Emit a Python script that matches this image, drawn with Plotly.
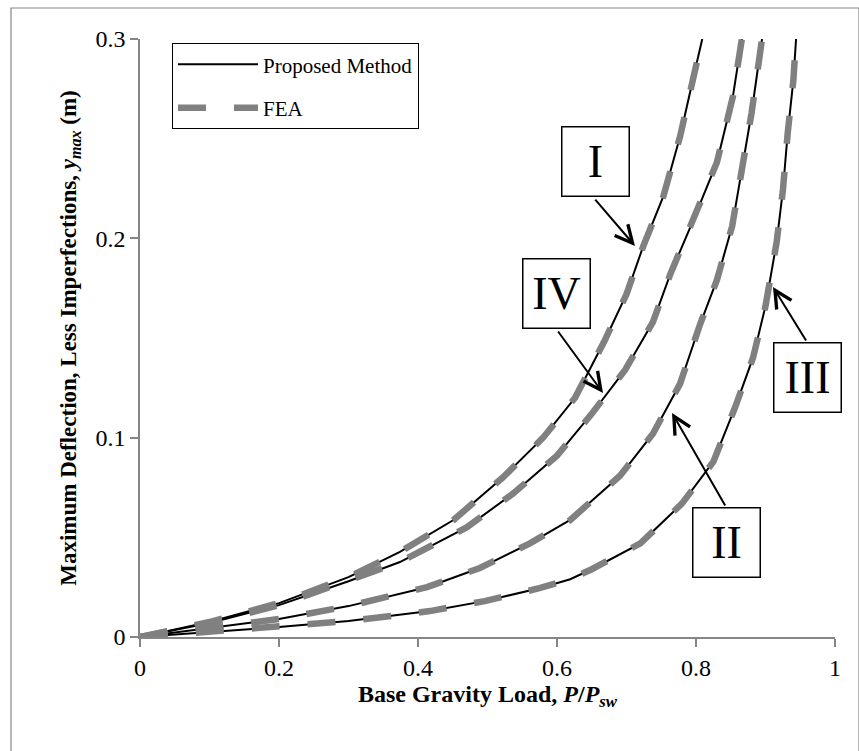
import plotly.graph_objects as go

# ---- data ----
x_I = [0, 0.1, 0.2, 0.3, 0.374, 0.451, 0.522, 0.580, 0.626, 0.669, 0.700, 0.724, 0.753, 0.777, 0.801, 0.809]
y_I = [0, 0.0075, 0.017, 0.030, 0.0427, 0.0587, 0.080, 0.100, 0.120, 0.149, 0.172, 0.196, 0.221, 0.251, 0.288, 0.300]

x_IV = [0, 0.1, 0.2, 0.3, 0.374, 0.470, 0.537, 0.600, 0.650, 0.698, 0.738, 0.763, 0.796, 0.830, 0.853, 0.866]
y_IV = [0, 0.007, 0.016, 0.028, 0.0376, 0.055, 0.072, 0.091, 0.112, 0.134, 0.158, 0.182, 0.209, 0.238, 0.271, 0.300]

x_II = [0, 0.1, 0.2, 0.3, 0.374, 0.413, 0.489, 0.561, 0.619, 0.691, 0.738, 0.777, 0.806, 0.830, 0.852, 0.866, 0.880, 0.895]
y_II = [0, 0.0045, 0.009, 0.0155, 0.0216, 0.025, 0.0346, 0.047, 0.0587, 0.081, 0.102, 0.127, 0.157, 0.179, 0.206, 0.234, 0.263, 0.300]

x_III = [0, 0.1, 0.2, 0.3, 0.374, 0.417, 0.496, 0.576, 0.619, 0.650, 0.720, 0.780, 0.825, 0.856, 0.882, 0.900, 0.916, 0.925, 0.932, 0.940, 0.944]
y_III = [0, 0.0025, 0.005, 0.008, 0.011, 0.013, 0.018, 0.0246, 0.029, 0.034, 0.047, 0.067, 0.088, 0.115, 0.140, 0.166, 0.198, 0.224, 0.253, 0.279, 0.300]

curve_names = ["I", "IV", "II", "III"]
curves_x = [x_I, x_IV, x_II, x_III]
curves_y = [y_I, y_IV, y_II, y_III]

# curve labels and their arrows
label_names = ["I", "IV", "II", "III"]
label_box_x = [0.6547, 0.5986, 0.8439, 0.9604]
label_box_y = [0.2386, 0.1721, 0.0474, 0.1300]
arrow_tail_x = [0.6532, 0.6000, 0.8432, 0.9597]
arrow_tail_y = [0.2202, 0.1540, 0.0652, 0.1480]
arrow_head_x = [0.7122, 0.6662, 0.7655, 0.9108]
arrow_head_y = [0.1962, 0.1224, 0.1124, 0.1756]

x_ticks = [0, 0.2, 0.4, 0.6, 0.8, 1]
x_ticklabels = ["0", "0.2", "0.4", "0.6", "0.8", "1"]
y_ticks = [0, 0.1, 0.2, 0.3]
y_ticklabels = ["0", "0.1", "0.2", "0.3"]

FONT = "Liberation Serif, Times New Roman, serif"
AXC = "#868686"

fig = go.Figure()

for i, (cx, cy) in enumerate(zip(curves_x, curves_y)):
    fig.add_trace(go.Scatter(
        x=cx, y=cy, mode="lines", name="Proposed Method",
        line=dict(color="black", width=2),
        legendgroup="pm", showlegend=(i == 0),
    ))
for i, (cx, cy) in enumerate(zip(curves_x, curves_y)):
    fig.add_trace(go.Scatter(
        x=cx, y=cy, mode="lines", name="FEA",
        line=dict(color="#808080", width=6.5, dash="28px,28px"),
        legendgroup="fea", showlegend=(i == 0),
    ))

annotations = []
for n, bx, by, tx, ty, hx, hy in zip(label_names, label_box_x, label_box_y,
                                      arrow_tail_x, arrow_tail_y, arrow_head_x, arrow_head_y):
    annotations.append(dict(
        x=hx, y=hy, xref="x", yref="y", ax=tx, ay=ty, axref="x", ayref="y",
        text="", showarrow=True, arrowhead=5, arrowsize=1.7, arrowwidth=2,
        arrowcolor="black", standoff=0, startstandoff=0,
    ))
    annotations.append(dict(
        x=bx, y=by, xref="x", yref="y", text=n, showarrow=False,
        font=dict(family=FONT, size=46, color="black"),
        bgcolor="white", bordercolor="black", borderwidth=1.5, borderpad=0,
        width=66, height=68, xanchor="center", yanchor="middle",
    ))

fig.update_layout(
    width=859, height=751,
    margin=dict(l=140, r=24, t=39, b=114),
    paper_bgcolor="white", plot_bgcolor="white",
    font=dict(family=FONT, size=23, color="black"),
    showlegend=True,
    legend=dict(
        x=0.046, y=0.993, xanchor="left", yanchor="top",
        bgcolor="white", bordercolor="black", borderwidth=1,
        font=dict(family=FONT, size=21, color="black"),
        traceorder="grouped", tracegroupgap=13, itemwidth=80,
    ),
    xaxis=dict(
        range=[0, 1], tickvals=x_ticks, ticktext=x_ticklabels,
        showgrid=False, zeroline=False, showline=True, linecolor=AXC, linewidth=1.5,
        ticks="outside", ticklen=8, tickcolor=AXC, tickwidth=1.5,
        tickfont=dict(family=FONT, size=24, color="black"),
        title=dict(text="<b>Base Gravity Load, <i>P</i>/<i>P<sub>sw</sub></i></b>",
                   font=dict(family=FONT, size=24, color="black"), standoff=6),
    ),
    yaxis=dict(
        range=[0, 0.3], tickvals=y_ticks, ticktext=y_ticklabels,
        showgrid=False, zeroline=False, showline=True, linecolor=AXC, linewidth=1.5,
        ticks="outside", ticklen=8, tickcolor=AXC, tickwidth=1.5,
        tickfont=dict(family=FONT, size=24, color="black"),
        title=dict(text="<b>Maximum Deflection, Less Imperfections, <i>y<sub>max</sub></i> (m)</b>",
                   font=dict(family=FONT, size=23, color="black"), standoff=12),
    ),
    annotations=annotations,
    shapes=[dict(type="rect", xref="paper", yref="paper",
                 x0=(11 - 140) / 695, x1=(859 - 140) / 695,
                 y0=(637 - 752) / 598, y1=(637 - 8) / 598,
                 line=dict(color=AXC, width=1.2), layer="below")],
)

fig.write_html("out.html")
